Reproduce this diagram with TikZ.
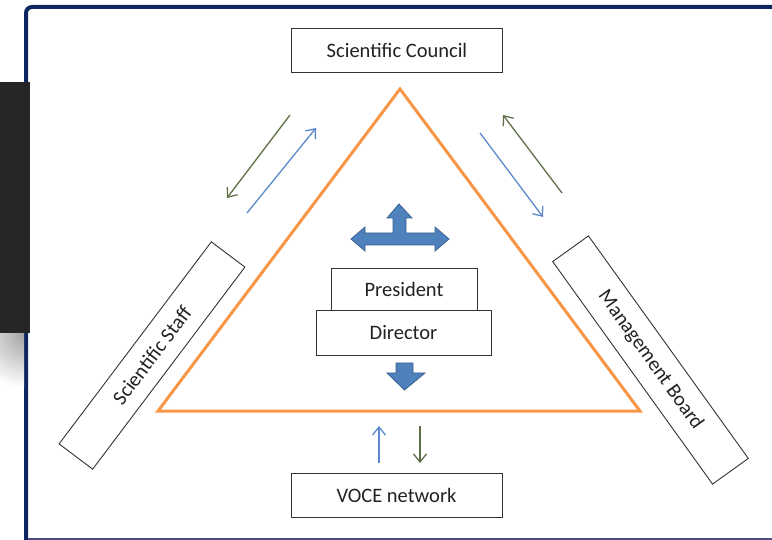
\documentclass[tikz,border=0pt]{standalone}
\usepackage{fontspec}
\setmainfont{Carlito}
\definecolor{navy}{HTML}{0B2660}
\definecolor{tri}{HTML}{F79646}
\definecolor{arrgreen}{HTML}{5F7048}
\definecolor{arrblue}{HTML}{5A8ACB}
\definecolor{blockfill}{HTML}{4F81BD}
\definecolor{blockline}{HTML}{3A6192}
\definecolor{panel}{HTML}{262626}
\definecolor{txt}{HTML}{222222}
\usetikzlibrary{arrows.meta}
\tikzset{
  box/.style={draw=black!80, line width=0.9pt, fill=white, inner sep=0pt, text=txt,
    font=\fontsize{20.5}{24}\selectfont},
  greenarr/.style={draw=arrgreen, line width=1.3pt, -{Straight Barb[length=8pt,width=13pt]}},
  bluearr/.style={draw=arrblue, line width=1.3pt, -{Straight Barb[length=8pt,width=13pt]}},
  block/.style={fill=blockfill, draw=blockline, line width=0.8pt, line join=miter}
}
\begin{document}
\begin{tikzpicture}[x=1pt,y=-1pt]
\useasboundingbox (0,0) rectangle (772,540);
\begin{scope}
\clip (0,0) rectangle (772,540);
% frame
\draw[navy, line width=4pt, rounded corners=6pt] (26,7) rectangle (820,580);
\draw[black!45!blue!40!gray, line width=1.2pt] (28,539) -- (772,539);
% left panel and shadow
\begin{scope}
\clip (0,333) rectangle (24,390);
\shade[inner color=gray!75, outer color=white] (26,333) circle[radius=55pt];
\end{scope}
\fill[panel] (0,82) rectangle (30,333);
\end{scope}

% triangle
\coordinate (apex) at (400,89);
\coordinate (bl) at (158,411);
\coordinate (br) at (640,411);
\draw[tri, line width=3pt, line join=miter] (apex) -- (bl) -- (br) -- cycle;

% boxes
\node[box, minimum width=211pt, minimum height=44pt] (council) at (397,50.5) {Scientific Council};
\node[box, minimum width=211pt, minimum height=44pt] (voce) at (396.5,495) {VOCE network};
\node[box, minimum width=253pt, minimum height=42pt, rotate=53] (staff) at (152,355.5) {Scientific Staff};
\node[box, minimum width=274pt, minimum height=44pt, rotate=-54.3] (board) at (650.5,360) {Management Board};
\node[box, minimum width=146pt, minimum height=42pt] (president) at (404,289) {President};
\node[box, minimum width=175pt, minimum height=45pt] (director) at (403.5,332.5) {Director};

% thin arrows
\coordinate (g1s) at (290,115); \coordinate (g1e) at (227,198);
\coordinate (b1s) at (247,213); \coordinate (b1e) at (316,128);
\coordinate (g2s) at (562,193); \coordinate (g2e) at (503,115);
\coordinate (b2s) at (480,133); \coordinate (b2e) at (543,217);
\coordinate (b3s) at (379,463); \coordinate (b3e) at (379,426);
\coordinate (g3s) at (420,426); \coordinate (g3e) at (420,463);
\draw[greenarr] (g1s) -- (g1e);
\draw[bluearr] (b1s) -- (b1e);
\draw[greenarr] (g2s) -- (g2e);
\draw[bluearr] (b2s) -- (b2e);
\draw[bluearr] (b3s) -- (b3e);
\draw[greenarr] (g3s) -- (g3e);

% block arrows
\draw[block] (351,239) -- (365,227) -- (365,233) -- (393,233) -- (393,218) -- (387,218)
  -- (399,204) -- (412,218) -- (406,218) -- (406,233) -- (435,233) -- (435,227)
  -- (449,239) -- (435,251) -- (435,245) -- (365,245) -- (365,251) -- cycle;
\draw[block] (396,363) -- (413,363) -- (413,373) -- (425,373) -- (404.5,390)
  -- (387,373) -- (396,373) -- cycle;
\end{tikzpicture}
\end{document}
